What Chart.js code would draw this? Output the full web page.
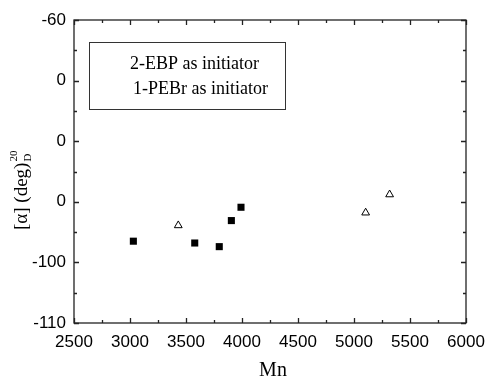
<!DOCTYPE html>
<html>
<head>
<meta charset="utf-8">
<script src="https://cdn.jsdelivr.net/npm/chart.js@4/dist/chart.umd.min.js"></script>
<style>
  body { margin: 0; background: #fff; }
  #wrap { width: 488px; height: 381px; }
</style>
</head>
<body>
<div id="wrap"><canvas id="myChart" width="488" height="381"></canvas></div>
<script>
// data
var ebpMn = [3030, 3578, 3797, 3905, 3991];
var ebpAlpha = [-96.5, -96.8, -97.4, -93.1, -90.9];
var pebrMn = [3431, 5104, 5318];
var pebrAlpha = [-93.9, -91.8, -88.8];
var seriesNames = ["2-EBP as initiator", "1-PEBr as initiator"];

var xTickLabels = { 2500: "2500", 3000: "3000", 3500: "3500", 4000: "4000", 4500: "4500", 5000: "5000", 5500: "5500", 6000: "6000" };
// the middle y labels are cut off in the original, only the last "0" shows
var yTickLabels = { "-110": "-110", "-100": "-100", "-90": "0", "-80": "0", "-70": "0", "-60": "-60" };
var xTitle = "Mn";

function pts(xs, ys) {
  var out = [];
  for (var i = 0; i < xs.length; i++) out.push({ x: xs[i], y: ys[i] });
  return out;
}

// ticks pointing inward on all four sides + frame, legend box, axis titles
var framePlugin = {
  id: "frame",
  afterDraw: function (chart) {
    var ctx = chart.ctx;
    var a = chart.chartArea;
    var xs = chart.scales.x, ys = chart.scales.y;
    ctx.save();
    ctx.strokeStyle = "#222";
    ctx.lineWidth = 1.3;
    ctx.strokeRect(a.left, a.top, a.right - a.left, a.bottom - a.top);
    ctx.beginPath();
    for (var v = 2500; v <= 6000; v += 250) {
      var px = Math.round(xs.getPixelForValue(v)) + 0.5;
      var len = (v % 500 === 0) ? 5 : 3;
      ctx.moveTo(px, a.bottom); ctx.lineTo(px, a.bottom - len);
      ctx.moveTo(px, a.top); ctx.lineTo(px, a.top + len);
    }
    for (var w = -110; w <= -60; w += 5) {
      var py = Math.round(ys.getPixelForValue(w)) + 0.5;
      var l2 = (w % 10 === 0) ? 5 : 3;
      ctx.moveTo(a.left, py); ctx.lineTo(a.left + l2, py);
      ctx.moveTo(a.right, py); ctx.lineTo(a.right - l2, py);
    }
    ctx.stroke();

    // legend box (text only, as in the original)
    ctx.lineWidth = 1;
    ctx.strokeStyle = "#333";
    ctx.strokeRect(89.5, 42.5, 196, 67);
    ctx.fillStyle = "#000";
    ctx.font = "18px 'Liberation Serif', serif";
    ctx.textBaseline = "middle";
    ctx.fillText(seriesNames[0], 130, 64);
    ctx.fillText(seriesNames[1], 133, 89);

    // x title
    ctx.font = "20px 'Liberation Serif', serif";
    ctx.textAlign = "center";
    ctx.fillText(xTitle, (a.left + a.right) / 2 + 3, 371);

    // y title with super/subscript
    ctx.translate(27, 230);
    ctx.rotate(-Math.PI / 2);
    ctx.textAlign = "left";
    ctx.textBaseline = "alphabetic";
    ctx.font = "19px 'Liberation Serif', serif";
    var main = "[\u03B1] (deg)";
    ctx.fillText(main, 0, 0);
    var mw = ctx.measureText(main).width;
    ctx.font = "11px 'Liberation Serif', serif";
    ctx.fillText("20", mw + 1, -10);
    ctx.fillText("D", mw + 1, 4);
    ctx.restore();
  }
};

new Chart("myChart", {
  type: "scatter",
  data: {
    datasets: [{
      label: seriesNames[0],
      data: pts(ebpMn, ebpAlpha),
      pointStyle: "rect",
      pointRadius: 5,
      backgroundColor: "#000",
      borderColor: "#000",
      borderWidth: 0
    }, {
      label: seriesNames[1],
      data: pts(pebrMn, pebrAlpha),
      pointStyle: "triangle",
      pointRadius: 4.5,
      backgroundColor: "#fff",
      borderColor: "#000",
      borderWidth: 1
    }]
  },
  options: {
    responsive: false,
    animation: false,
    layout: { padding: { left: 0, top: 20, right: 22, bottom: 0 } },
    plugins: { legend: { display: false }, tooltip: { enabled: false } },
    scales: {
      x: {
        min: 2500, max: 6000,
        afterFit: function (s) { s.height = 58; s.paddingRight = 0; s.paddingLeft = 0; },
        grid: { display: false, drawTicks: false },
        border: { display: false },
        ticks: {
          stepSize: 500, padding: 9, color: "#000",
          maxRotation: 0, autoSkip: false,
          font: { family: "'Liberation Sans', Arial, sans-serif", size: 17 },
          callback: function (v) { return xTickLabels[v]; }
        }
      },
      y: {
        min: -110, max: -60,
        afterFit: function (s) { s.width = 74; s.paddingTop = 0; s.paddingBottom = 0; },
        grid: { display: false, drawTicks: false },
        border: { display: false },
        ticks: {
          stepSize: 10, padding: 8, color: "#000",
          font: { family: "'Liberation Sans', Arial, sans-serif", size: 17 },
          callback: function (v) { return yTickLabels[String(v)]; }
        }
      }
    }
  },
  plugins: [framePlugin]
});
</script>
</body>
</html>
